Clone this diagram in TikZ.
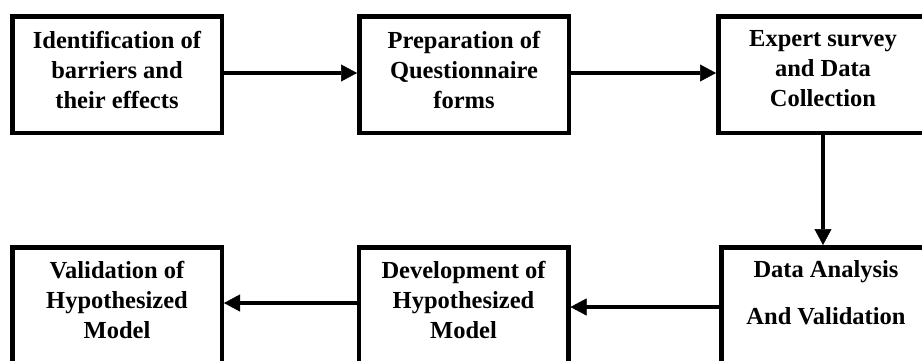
\documentclass[tikz,border=0pt]{standalone}
\usepackage{fontspec}
\setmainfont{Liberation Serif}
\usetikzlibrary{arrows.meta}
\begin{document}
\begin{tikzpicture}[x=1pt,y=-1pt,
  stagebox/.style={draw=black,line width=4.5pt,fill=white,inner sep=0pt,
    minimum width=209.5pt,minimum height=116.5pt},
  stagetext/.style={align=center,inner sep=0pt,
    font=\fontsize{24.5}{30}\selectfont\bfseries},
  flow/.style={line width=4pt,-{Triangle[length=16pt,width=17pt,line width=0.5pt]}}]
\clip (0,0) rectangle (922,360);
\fill[white] (0,0) rectangle (922,360);

% top row
\node[stagebox] (b1) at (117,74.5) {};
\node[stagebox] (b2) at (464,74.5) {};
\node[stagebox] (b3) at (823,74.5) {};
% bottom row
\node[stagebox] (b4) at (117,305.5) {};
\node[stagebox] (b5) at (463.5,305.5) {};
\node[stagebox] (b6) at (826,305.5) {};

% stage labels
\node[stagetext] (t1) at (117,69.5) {Identification of\\barriers and\\their effects};
\node[stagetext] (t2) at (464,69.5) {Preparation of\\Questionnaire\\forms};
\node[stagetext] (t3) at (823,68.5) {Expert survey\\and Data\\Collection};
\node[stagetext] (t4) at (117,299.5) {Validation of\\Hypothesized\\Model};
\node[stagetext] (t5) at (463.5,299.5) {Development of\\Hypothesized\\Model};
\node[stagetext,font=\fontsize{24.5}{47}\selectfont\bfseries] (t6) at (826,293) {Data Analysis\\And Validation};

% connectors
\draw[flow] ([yshift=1.5pt]b1.east) -- ([yshift=1.5pt]b2.west);
\draw[flow] ([yshift=1.5pt]b2.east) -- ([yshift=1.5pt]b3.west);
\draw[flow] (b3.south) -- (b3.south |- b6.north);
\draw[flow] ([yshift=-1.5pt]b6.west) -- ([yshift=-1.5pt]b5.east);
\draw[flow] ([yshift=2.5pt]b5.west) -- ([yshift=2.5pt]b4.east);
\end{tikzpicture}
\end{document}
